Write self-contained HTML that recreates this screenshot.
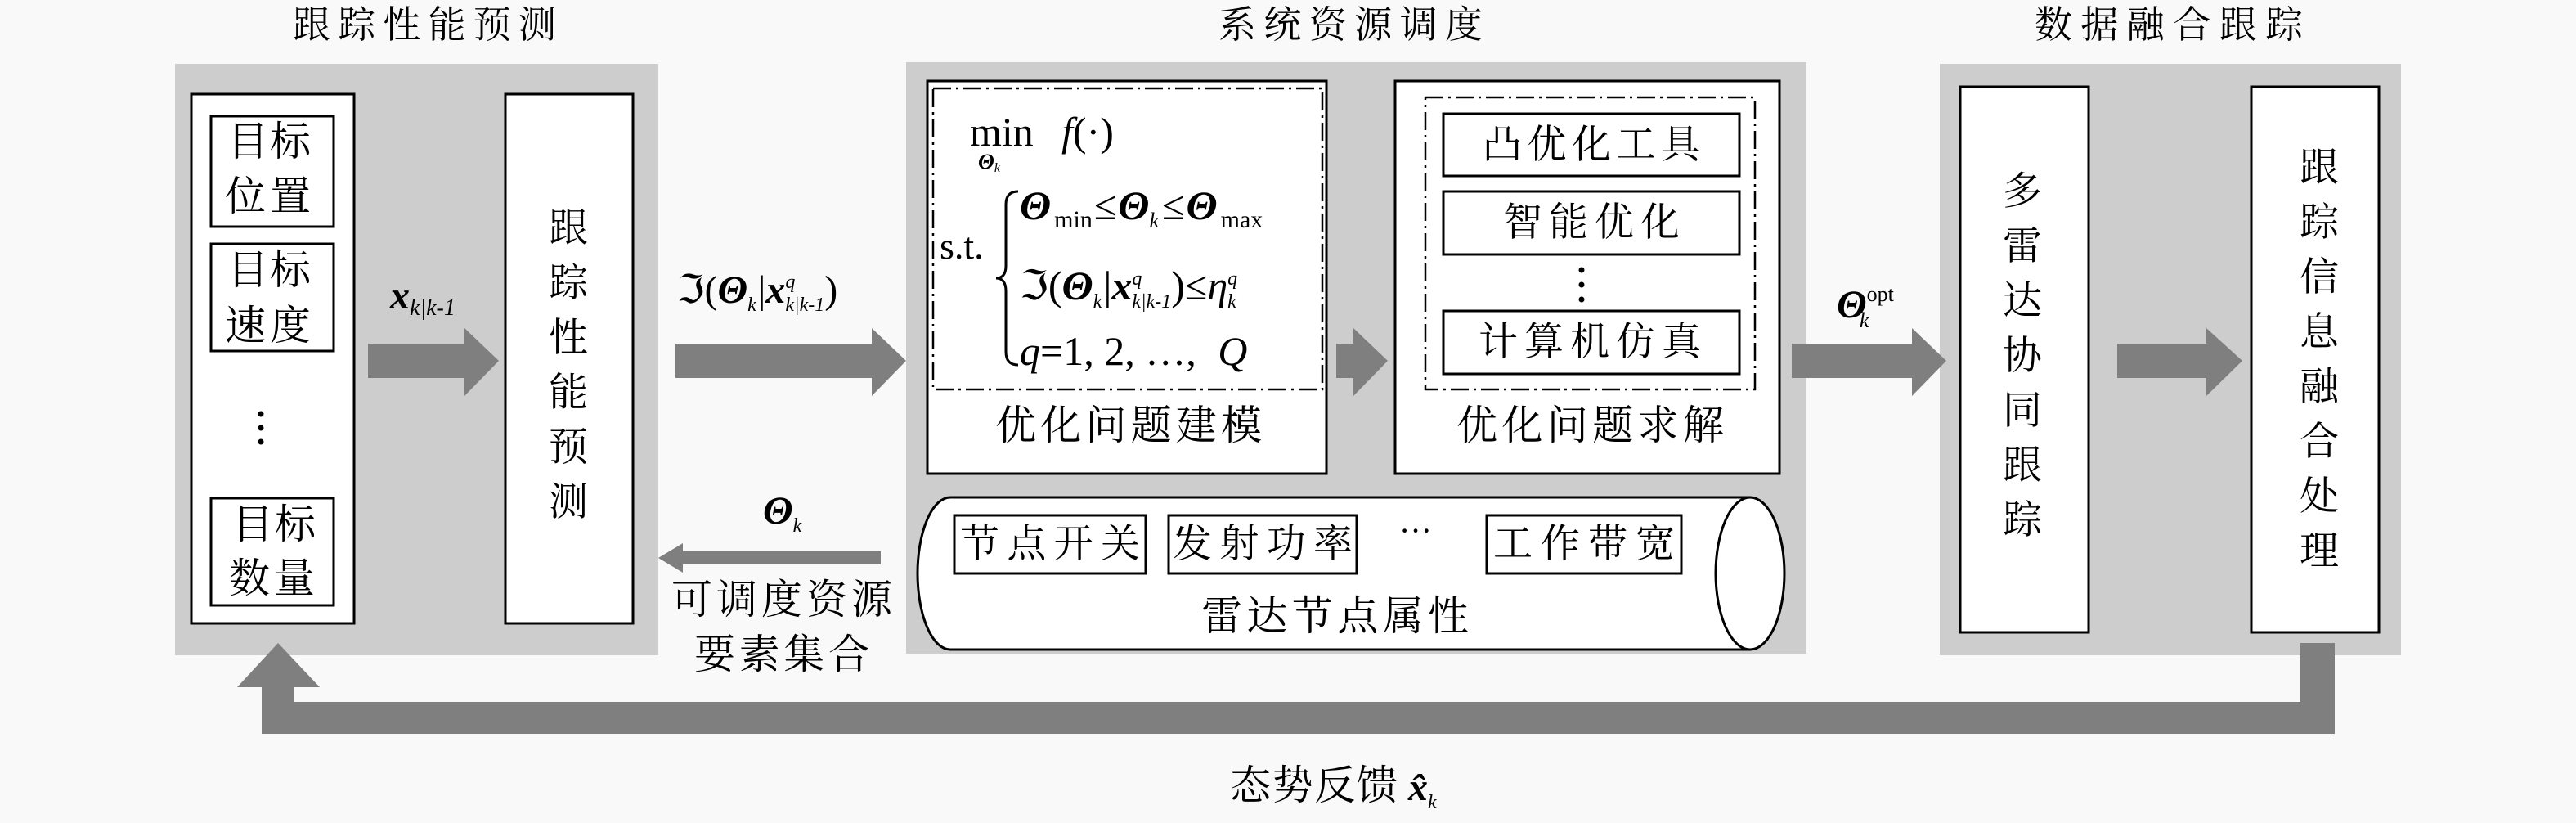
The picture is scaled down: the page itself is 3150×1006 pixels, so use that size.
<!DOCTYPE html>
<html><head><meta charset="utf-8">
<style>
html,body{margin:0;padding:0;background:#f9f9f9;}
svg{display:block;}
.cn{font-family:"Liberation Serif","Noto Serif CJK SC","Noto Sans CJK SC",serif;fill:#000;}
.m{font-family:"Liberation Serif","DejaVu Serif",serif;fill:#000;}
</style></head>
<body>
<svg width="3150" height="1006" viewBox="0 0 3150 1006" xmlns="http://www.w3.org/2000/svg">
<rect width="3150" height="1006" fill="#f9f9f9"/>
<!-- titles -->
<text class="cn" x="358" y="46" font-size="46" textLength="322">跟踪性能预测</text>
<text class="cn" x="1490" y="46" font-size="46" textLength="323">系统资源调度</text>
<text class="cn" x="2488" y="46" font-size="46" textLength="328">数据融合跟踪</text>

<!-- panels -->
<rect x="214" y="78" width="591" height="723" fill="#cdcdcd"/>
<rect x="1108" y="76" width="1101" height="723" fill="#cdcdcd"/>
<rect x="2372" y="78" width="564" height="723" fill="#cdcdcd"/>

<!-- panel 1 -->
<rect x="234" y="115" width="199" height="647" fill="#fff" stroke="#000" stroke-width="3"/>
<rect x="258" y="142" width="150" height="135" fill="#fff" stroke="#000" stroke-width="3"/>
<rect x="258" y="298" width="150" height="131" fill="#fff" stroke="#000" stroke-width="3"/>
<rect x="258" y="609" width="150" height="131" fill="#fff" stroke="#000" stroke-width="3"/>
<g class="cn" font-size="50" dominant-baseline="central">
<text x="278" y="173" textLength="102">目标</text>
<text x="275" y="240" textLength="105">位置</text>
<text x="278" y="330" textLength="102">目标</text>
<text x="275" y="398" textLength="105">速度</text>
<text x="284" y="641" textLength="102">目标</text>
<text x="280" y="707" textLength="105">数量</text>
</g>
<circle cx="319" cy="506" r="3.5" fill="#000"/>
<circle cx="319" cy="523" r="3.5" fill="#000"/>
<circle cx="319" cy="540" r="3.5" fill="#000"/>

<rect x="618" y="115" width="156" height="647" fill="#fff" stroke="#000" stroke-width="3"/>
<g class="cn" font-size="48" text-anchor="middle" dominant-baseline="central">
<text x="695" y="279">跟</text><text x="695" y="346">踪</text><text x="695" y="413">性</text>
<text x="695" y="480">能</text><text x="695" y="547">预</text><text x="695" y="614">测</text>
</g>

<!-- arrows (gray) -->
<g fill="#7f7f7f">
<polygon points="450,420 568,420 568,401 610,441 568,484 568,462 450,462"/>
<polygon points="826,420 1066,420 1066,401 1108,441 1066,484 1066,462 826,462"/>
<polygon points="1634,420 1655,420 1655,401 1697,441 1655,484 1655,462 1634,462"/>
<polygon points="2191,420 2338,420 2338,401 2380,441 2338,484 2338,462 2191,462"/>
<polygon points="2589,420 2698,420 2698,401 2742,441 2698,484 2698,462 2589,462"/>
<polygon points="1077,674 835,674 835,664 805,682 835,700 835,690 1077,690"/>
<polygon points="2855,786 2855,897 320,897 320,840 290,840 340,786 391,840 360,840 360,858 2813,858 2813,786"/>
</g>

<!-- labels on arrows -->
<text class="m" x="477" y="377" font-size="48" font-weight="bold" font-style="italic">x<tspan font-size="28" font-weight="normal" dy="8">k|k-1</tspan></text>
<text class="m" x="828" y="370" font-size="48">ℑ(<tspan font-weight="bold" font-style="italic">Θ</tspan><tspan font-size="24" font-style="italic" dy="10">k</tspan><tspan dy="-10" dx="2">|</tspan><tspan font-weight="bold" font-style="italic">x</tspan><tspan font-size="24" font-style="italic" dy="-18">q</tspan><tspan font-size="24" font-style="italic" dx="-12" dy="28">k|k-1</tspan><tspan dy="-10">)</tspan></text>
<text class="m" x="933" y="640" font-size="48" font-weight="bold" font-style="italic">Θ<tspan font-size="24" font-weight="normal" dy="10">k</tspan></text>
<text class="cn" x="821" y="733" font-size="50" dominant-baseline="central" textLength="270">可调度资源</text>
<text class="cn" x="849" y="800" font-size="50" dominant-baseline="central" textLength="214">要素集合</text>
<text class="m" x="2246" y="388" font-size="48" font-weight="bold" font-style="italic">Θ<tspan font-size="26" font-weight="normal" font-style="normal" dy="-20">opt</tspan><tspan font-size="26" font-weight="normal" dx="-42" dy="32">k</tspan></text>

<!-- panel 2: modeling -->
<rect x="1134" y="99" width="488" height="480" fill="#fff" stroke="#000" stroke-width="3"/>
<rect x="1141" y="108" width="476" height="368" fill="none" stroke="#000" stroke-width="2.5" stroke-dasharray="22,6,3,6"/>
<text class="m" x="1186" y="178" font-size="50">min</text>
<text class="m" x="1298" y="178" font-size="50" font-style="italic">f<tspan font-style="normal">(·)</tspan></text>
<text class="m" x="1196" y="206" font-size="26" font-weight="bold" font-style="italic">Θ<tspan font-size="16" font-weight="normal" dy="4">k</tspan></text>
<text class="m" x="1149" y="316" font-size="46">s.t.</text>
<path d="M1245,234 Q1230,234 1230,250 L1230,325 Q1230,340 1218,340 Q1230,340 1230,356 L1230,430 Q1230,446 1245,446" fill="none" stroke="#000" stroke-width="3"/>
<text class="m" x="1247" y="268" font-size="50"><tspan font-weight="bold" font-style="italic">Θ</tspan><tspan font-size="30" dy="10" dx="4">min</tspan><tspan dy="-10" dx="2">≤</tspan><tspan font-weight="bold" font-style="italic" dx="2">Θ</tspan><tspan font-size="26" font-style="italic" dy="10">k</tspan><tspan dy="-10" dx="4">≤</tspan><tspan font-weight="bold" font-style="italic" dx="2">Θ</tspan><tspan font-size="30" dy="10" dx="4">max</tspan></text>
<text class="m" x="1247" y="366" font-size="50">ℑ(<tspan font-weight="bold" font-style="italic">Θ</tspan><tspan font-size="24" font-style="italic" dy="10">k</tspan><tspan dy="-10" dx="2">|</tspan><tspan font-weight="bold" font-style="italic">x</tspan><tspan font-size="24" font-style="italic" dy="-18">q</tspan><tspan font-size="24" font-style="italic" dx="-12" dy="28">k|k-1</tspan><tspan dy="-10">)≤</tspan><tspan font-style="italic">η</tspan><tspan font-size="24" font-style="italic" dy="-18">q</tspan><tspan font-size="24" font-style="italic" dx="-12" dy="28">k</tspan></text>
<text class="m" x="1247" y="446" font-size="50"><tspan font-style="italic">q</tspan>=1, 2, …, <tspan font-style="italic" dx="14">Q</tspan></text>
<text class="cn" x="1217" y="520" font-size="50" dominant-baseline="central" textLength="326">优化问题建模</text>

<!-- panel 2: solving -->
<rect x="1706" y="99" width="470" height="480" fill="#fff" stroke="#000" stroke-width="3"/>
<rect x="1743" y="119" width="403" height="357" fill="none" stroke="#000" stroke-width="2.5" stroke-dasharray="22,6,3,6"/>
<rect x="1765" y="139" width="362" height="76" fill="#fff" stroke="#000" stroke-width="3"/>
<rect x="1765" y="234" width="362" height="77" fill="#fff" stroke="#000" stroke-width="3"/>
<rect x="1765" y="380" width="362" height="77" fill="#fff" stroke="#000" stroke-width="3"/>
<g class="cn" font-size="48" dominant-baseline="central">
<text x="1813" y="177" textLength="266">凸优化工具</text>
<text x="1838" y="272" textLength="216">智能优化</text>
<text x="1808" y="418" textLength="272">计算机仿真</text>
<text x="1781" y="520" font-size="50" textLength="327">优化问题求解</text>
</g>
<circle cx="1934" cy="330" r="3.5" fill="#000"/>
<circle cx="1934" cy="348" r="3.5" fill="#000"/>
<circle cx="1934" cy="366" r="3.5" fill="#000"/>

<!-- cylinder -->
<path d="M1162,608 L2140,608 L2140,794 L1162,794 A40,93 0 0 1 1162,608 Z" fill="#fff" stroke="#000" stroke-width="3"/>
<ellipse cx="2140" cy="701" rx="42" ry="93" fill="#fff" stroke="#000" stroke-width="3"/>
<rect x="1167" y="630" width="234" height="71" fill="#fff" stroke="#000" stroke-width="3"/>
<rect x="1429" y="630" width="230" height="71" fill="#fff" stroke="#000" stroke-width="3"/>
<rect x="1818" y="630" width="238" height="71" fill="#fff" stroke="#000" stroke-width="3"/>
<g class="cn" font-size="48" dominant-baseline="central">
<text x="1174" y="665" textLength="220">节点开关</text>
<text x="1434" y="665" textLength="220">发射功率</text>
<text x="1826" y="665" textLength="222">工作带宽</text>
<text x="1469" y="753" font-size="50" textLength="327">雷达节点属性</text>
</g>
<text class="m" x="1711" y="662" font-size="40">···</text>

<!-- panel 3 -->
<rect x="2397" y="106" width="157" height="667" fill="#fff" stroke="#000" stroke-width="3"/>
<rect x="2753" y="106" width="156" height="667" fill="#fff" stroke="#000" stroke-width="3"/>
<g class="cn" font-size="48" text-anchor="middle" dominant-baseline="central">
<text x="2473" y="234">多</text><text x="2473" y="301">雷</text><text x="2473" y="368">达</text>
<text x="2473" y="435">协</text><text x="2473" y="502">同</text><text x="2473" y="569">跟</text><text x="2473" y="636">踪</text>
<text x="2836" y="205">跟</text><text x="2836" y="272">踪</text><text x="2836" y="339">信</text><text x="2836" y="406">息</text>
<text x="2836" y="473">融</text><text x="2836" y="540">合</text><text x="2836" y="607">处</text><text x="2836" y="674">理</text>
</g>

<!-- feedback label -->
<text class="cn" x="1504" y="960" font-size="50" dominant-baseline="central" textLength="205">态势反馈</text>
<text class="m" x="1722" y="978" font-size="48" font-weight="bold" font-style="italic">x̂<tspan font-size="24" font-weight="normal" dy="10">k</tspan></text>
</svg>
</body></html>
